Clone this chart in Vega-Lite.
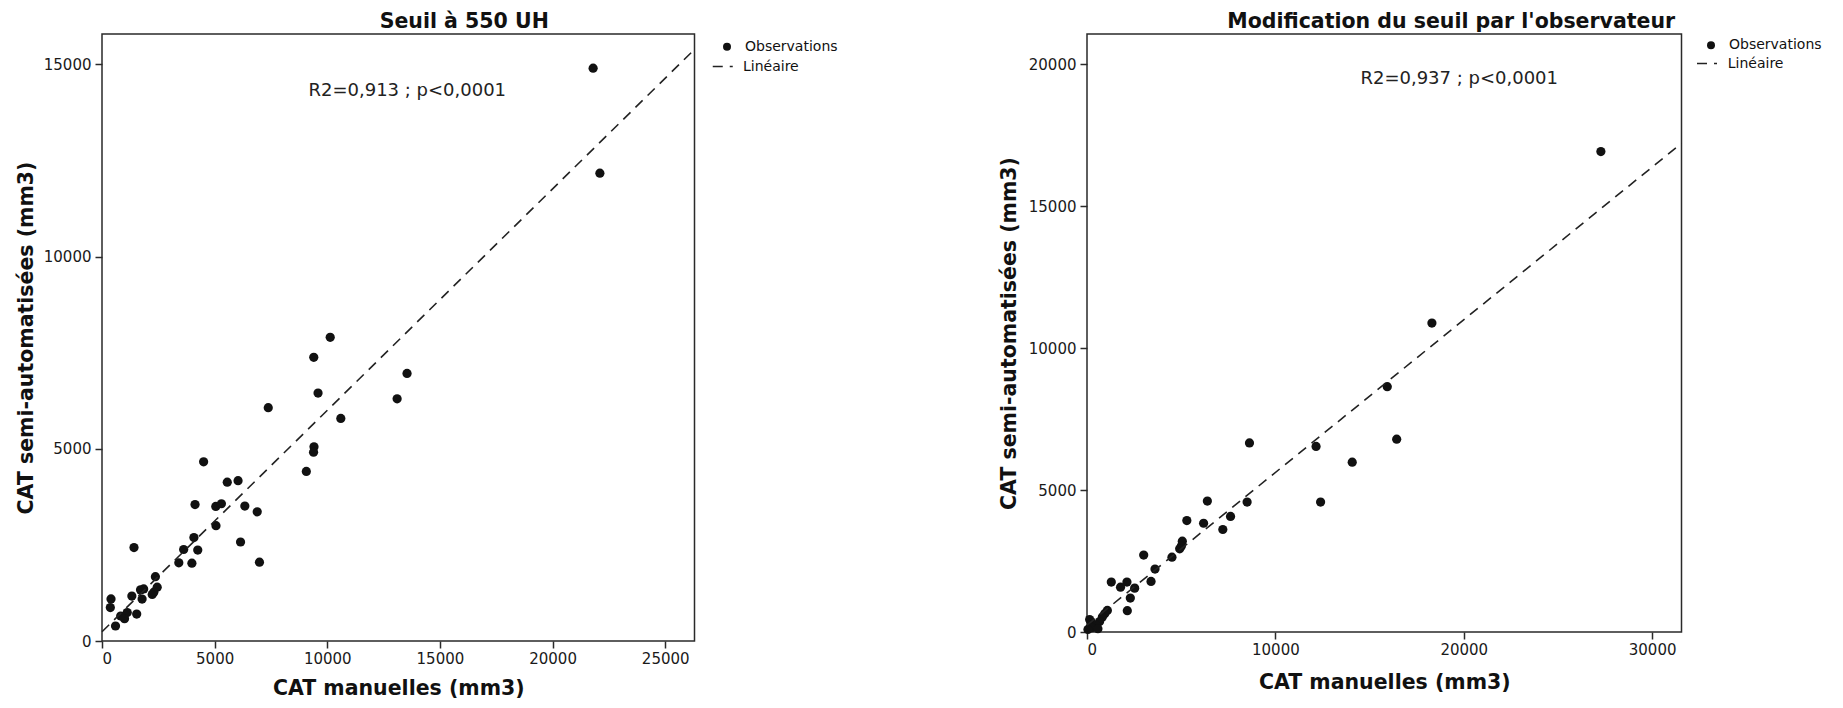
{
  "$schema": "https://vega.github.io/schema/vega-lite/v6.json",
  "background": "white",
  "padding": {"left": 15, "top": 11, "right": 5, "bottom": 0},
  "bounds": "flush",
  "spacing": 392,
  "resolve": {"scale": {"shape": "independent", "strokeDash": "independent", "x": "independent", "y": "independent"}, "legend": {"shape": "independent", "strokeDash": "independent"}},
  "config": {
    "font": "DejaVu Sans",
    "view": {"stroke": "#2a2a2a", "strokeWidth": 1.5},
    "axis": {"domain": false, "grid": false, "tickColor": "#2a2a2a", "tickWidth": 1.5, "tickSize": 7, "labelFont": "DejaVu Sans", "labelFontSize": 15, "labelColor": "#1a1a1a", "titleFont": "DejaVu Sans", "titleFontSize": 20.5, "titleFontWeight": "bold", "titleColor": "#111111"},
    "title": {"font": "DejaVu Sans", "fontSize": 20.5, "fontWeight": "bold", "color": "#111111"},
    "legend": {"title": null, "padding": 0, "symbolStrokeWidth": 1.5, "labelFontSize": 14, "labelFont": "DejaVu Sans", "labelColor": "#111111", "rowPadding": 6.4}
  },
  "datasets": {
    "gauche_obs": [
      {"manuel": 21800, "semi": 14900, "serie": "Observations"},
      {"manuel": 22100, "semi": 12170, "serie": "Observations"},
      {"manuel": 10130, "semi": 7900, "serie": "Observations"},
      {"manuel": 9400, "semi": 7380, "serie": "Observations"},
      {"manuel": 13540, "semi": 6960, "serie": "Observations"},
      {"manuel": 9590, "semi": 6450, "serie": "Observations"},
      {"manuel": 13100, "semi": 6300, "serie": "Observations"},
      {"manuel": 7380, "semi": 6070, "serie": "Observations"},
      {"manuel": 10600, "semi": 5790, "serie": "Observations"},
      {"manuel": 9410, "semi": 5050, "serie": "Observations"},
      {"manuel": 9390, "semi": 4910, "serie": "Observations"},
      {"manuel": 9070, "semi": 4410, "serie": "Observations"},
      {"manuel": 4510, "semi": 4660, "serie": "Observations"},
      {"manuel": 5560, "semi": 4130, "serie": "Observations"},
      {"manuel": 6040, "semi": 4170, "serie": "Observations"},
      {"manuel": 4130, "semi": 3550, "serie": "Observations"},
      {"manuel": 5050, "semi": 3500, "serie": "Observations"},
      {"manuel": 5300, "semi": 3570, "serie": "Observations"},
      {"manuel": 6340, "semi": 3510, "serie": "Observations"},
      {"manuel": 6890, "semi": 3360, "serie": "Observations"},
      {"manuel": 5060, "semi": 3000, "serie": "Observations"},
      {"manuel": 4080, "semi": 2690, "serie": "Observations"},
      {"manuel": 6150, "semi": 2575, "serie": "Observations"},
      {"manuel": 3625, "semi": 2380, "serie": "Observations"},
      {"manuel": 4250, "semi": 2365, "serie": "Observations"},
      {"manuel": 1420, "semi": 2430, "serie": "Observations"},
      {"manuel": 3410, "semi": 2035, "serie": "Observations"},
      {"manuel": 3990, "semi": 2025, "serie": "Observations"},
      {"manuel": 6990, "semi": 2050, "serie": "Observations"},
      {"manuel": 2370, "semi": 1673, "serie": "Observations"},
      {"manuel": 400, "semi": 1095, "serie": "Observations"},
      {"manuel": 370, "semi": 870, "serie": "Observations"},
      {"manuel": 1325, "semi": 1170, "serie": "Observations"},
      {"manuel": 1710, "semi": 1330, "serie": "Observations"},
      {"manuel": 1850, "semi": 1355, "serie": "Observations"},
      {"manuel": 1780, "semi": 1090, "serie": "Observations"},
      {"manuel": 2230, "semi": 1210, "serie": "Observations"},
      {"manuel": 2300, "semi": 1270, "serie": "Observations"},
      {"manuel": 2450, "semi": 1400, "serie": "Observations"},
      {"manuel": 1120, "semi": 740, "serie": "Observations"},
      {"manuel": 1000, "semi": 580, "serie": "Observations"},
      {"manuel": 830, "semi": 650, "serie": "Observations"},
      {"manuel": 1540, "semi": 700, "serie": "Observations"},
      {"manuel": 600, "semi": 390, "serie": "Observations"}
    ],
    "gauche_fit": [
      {"manuel": 0, "semi": 240, "serie": "Linéaire"},
      {"manuel": 26300, "semi": 15389, "serie": "Linéaire"}
    ],
    "droite_obs": [
      {"manuel": 27280, "semi": 16920, "serie": "Observations"},
      {"manuel": 18310, "semi": 10880, "serie": "Observations"},
      {"manuel": 15940, "semi": 8640, "serie": "Observations"},
      {"manuel": 16440, "semi": 6790, "serie": "Observations"},
      {"manuel": 8625, "semi": 6660, "serie": "Observations"},
      {"manuel": 12160, "semi": 6535, "serie": "Observations"},
      {"manuel": 14080, "semi": 5980, "serie": "Observations"},
      {"manuel": 12400, "semi": 4575, "serie": "Observations"},
      {"manuel": 6390, "semi": 4610, "serie": "Observations"},
      {"manuel": 8500, "semi": 4575, "serie": "Observations"},
      {"manuel": 5300, "semi": 3925, "serie": "Observations"},
      {"manuel": 6190, "semi": 3830, "serie": "Observations"},
      {"manuel": 7620, "semi": 4070, "serie": "Observations"},
      {"manuel": 7210, "semi": 3610, "serie": "Observations"},
      {"manuel": 5060, "semi": 3200, "serie": "Observations"},
      {"manuel": 5010, "semi": 3030, "serie": "Observations"},
      {"manuel": 4920, "semi": 2930, "serie": "Observations"},
      {"manuel": 4510, "semi": 2635, "serie": "Observations"},
      {"manuel": 3010, "semi": 2710, "serie": "Observations"},
      {"manuel": 3610, "semi": 2215, "serie": "Observations"},
      {"manuel": 3400, "semi": 1780, "serie": "Observations"},
      {"manuel": 1290, "semi": 1760, "serie": "Observations"},
      {"manuel": 1780, "semi": 1580, "serie": "Observations"},
      {"manuel": 2120, "semi": 1760, "serie": "Observations"},
      {"manuel": 2530, "semi": 1545, "serie": "Observations"},
      {"manuel": 2300, "semi": 1195, "serie": "Observations"},
      {"manuel": 2140, "semi": 750, "serie": "Observations"},
      {"manuel": 1080, "semi": 760, "serie": "Observations"},
      {"manuel": 940, "semi": 645, "serie": "Observations"},
      {"manuel": 815, "semi": 530, "serie": "Observations"},
      {"manuel": 670, "semi": 370, "serie": "Observations"},
      {"manuel": 500, "semi": 230, "serie": "Observations"},
      {"manuel": 230, "semi": 350, "serie": "Observations"},
      {"manuel": 140, "semi": 440, "serie": "Observations"},
      {"manuel": 265, "semi": 150, "serie": "Observations"},
      {"manuel": 50, "semi": 90, "serie": "Observations"},
      {"manuel": 580, "semi": 115, "serie": "Observations"}
    ],
    "droite_fit": [
      {"manuel": 0, "semi": 241, "serie": "Linéaire"},
      {"manuel": 31560, "semi": 17211, "serie": "Linéaire"}
    ]
  },
  "hconcat": [
    {
      "width": 592.5,
      "height": 607,
      "title": {"text": "Seuil à 550 UH", "frame": "group", "anchor": "middle", "dx": 66, "offset": 1.5},
      "layer": [
        {
          "data": {"name": "gauche_obs"},
          "mark": {"type": "point", "filled": true, "size": 85, "opacity": 1, "color": "#111111"},
          "encoding": {
            "x": {"field": "manuel", "type": "quantitative", "scale": {"domain": [0, 26300], "nice": false}, "axis": {"values": [0, 5000, 10000, 15000, 20000, 25000], "format": "d", "title": "CAT manuelles (mm3)", "titleY": 53, "titleBaseline": "alphabetic", "labelPadding": 3}},
            "y": {"field": "semi", "type": "quantitative", "scale": {"domain": [0, 15790], "nice": false}, "axis": {"values": [0, 5000, 10000, 15000], "format": "d", "title": "CAT semi-automatisées (mm3)", "titleX": -76, "titleBaseline": "middle", "labelPadding": 4}},
            "shape": {"field": "serie", "type": "nominal", "scale": {"domain": ["Observations"], "range": ["circle"]},
              "legend": {"orient": "none", "legendX": 618, "legendY": 5.7, "symbolSize": 64, "labelOffset": 11}}
          }
        },
        {
          "data": {"name": "gauche_fit"},
          "mark": {"type": "line", "strokeWidth": 1.6, "color": "#222222"},
          "encoding": {
            "x": {"field": "manuel", "type": "quantitative"},
            "y": {"field": "semi", "type": "quantitative"},
            "strokeDash": {"field": "serie", "type": "nominal", "scale": {"domain": ["Linéaire"], "range": [[10, 7]]},
              "legend": {"orient": "none", "legendX": 609.75, "legendY": 21.6, "symbolSize": 400, "labelOffset": 9.25}}
          }
        },
        {
          "data": {"values": [{}]},
          "mark": {"type": "text", "text": "R2=0,913 ; p<0,0001", "fontSize": 18, "color": "#222222", "font": "DejaVu Sans"},
          "encoding": {"x": {"datum": 13550}, "y": {"datum": 14320}}
        }
      ]
    },
    {
      "width": 594.5,
      "height": 598,
      "title": {"text": "Modification du seuil par l'observateur", "frame": "group", "anchor": "middle", "dx": 67, "offset": 1.5},
      "layer": [
        {
          "data": {"name": "droite_obs"},
          "mark": {"type": "point", "filled": true, "size": 85, "opacity": 1, "color": "#111111"},
          "encoding": {
            "x": {"field": "manuel", "type": "quantitative", "scale": {"domain": [0, 31560], "nice": false}, "axis": {"values": [0, 10000, 20000, 30000], "format": "d", "title": "CAT manuelles (mm3)", "titleY": 56, "titleBaseline": "alphabetic", "labelPadding": 3}},
            "y": {"field": "semi", "type": "quantitative", "scale": {"domain": [0, 21060], "nice": false}, "axis": {"values": [0, 5000, 10000, 15000, 20000], "format": "d", "title": "CAT semi-automatisées (mm3)", "titleX": -78, "titleBaseline": "middle", "labelPadding": 4}},
            "shape": {"field": "serie", "type": "nominal", "scale": {"domain": ["Observations"], "range": ["circle"]},
              "legend": {"orient": "none", "legendX": 617, "legendY": 4.2, "symbolSize": 64, "labelOffset": 11}}
          }
        },
        {
          "data": {"name": "droite_fit"},
          "mark": {"type": "line", "strokeWidth": 1.6, "color": "#222222"},
          "encoding": {
            "x": {"field": "manuel", "type": "quantitative"},
            "y": {"field": "semi", "type": "quantitative"},
            "strokeDash": {"field": "serie", "type": "nominal", "scale": {"domain": ["Linéaire"], "range": [[10, 7]]},
              "legend": {"orient": "none", "legendX": 609, "legendY": 18.5, "symbolSize": 400, "labelOffset": 9.75}}
          }
        },
        {
          "data": {"values": [{}]},
          "mark": {"type": "text", "text": "R2=0,937 ; p<0,0001", "fontSize": 18, "color": "#222222", "font": "DejaVu Sans"},
          "encoding": {"x": {"datum": 19760}, "y": {"datum": 19465}}
        }
      ]
    }
  ]
}
